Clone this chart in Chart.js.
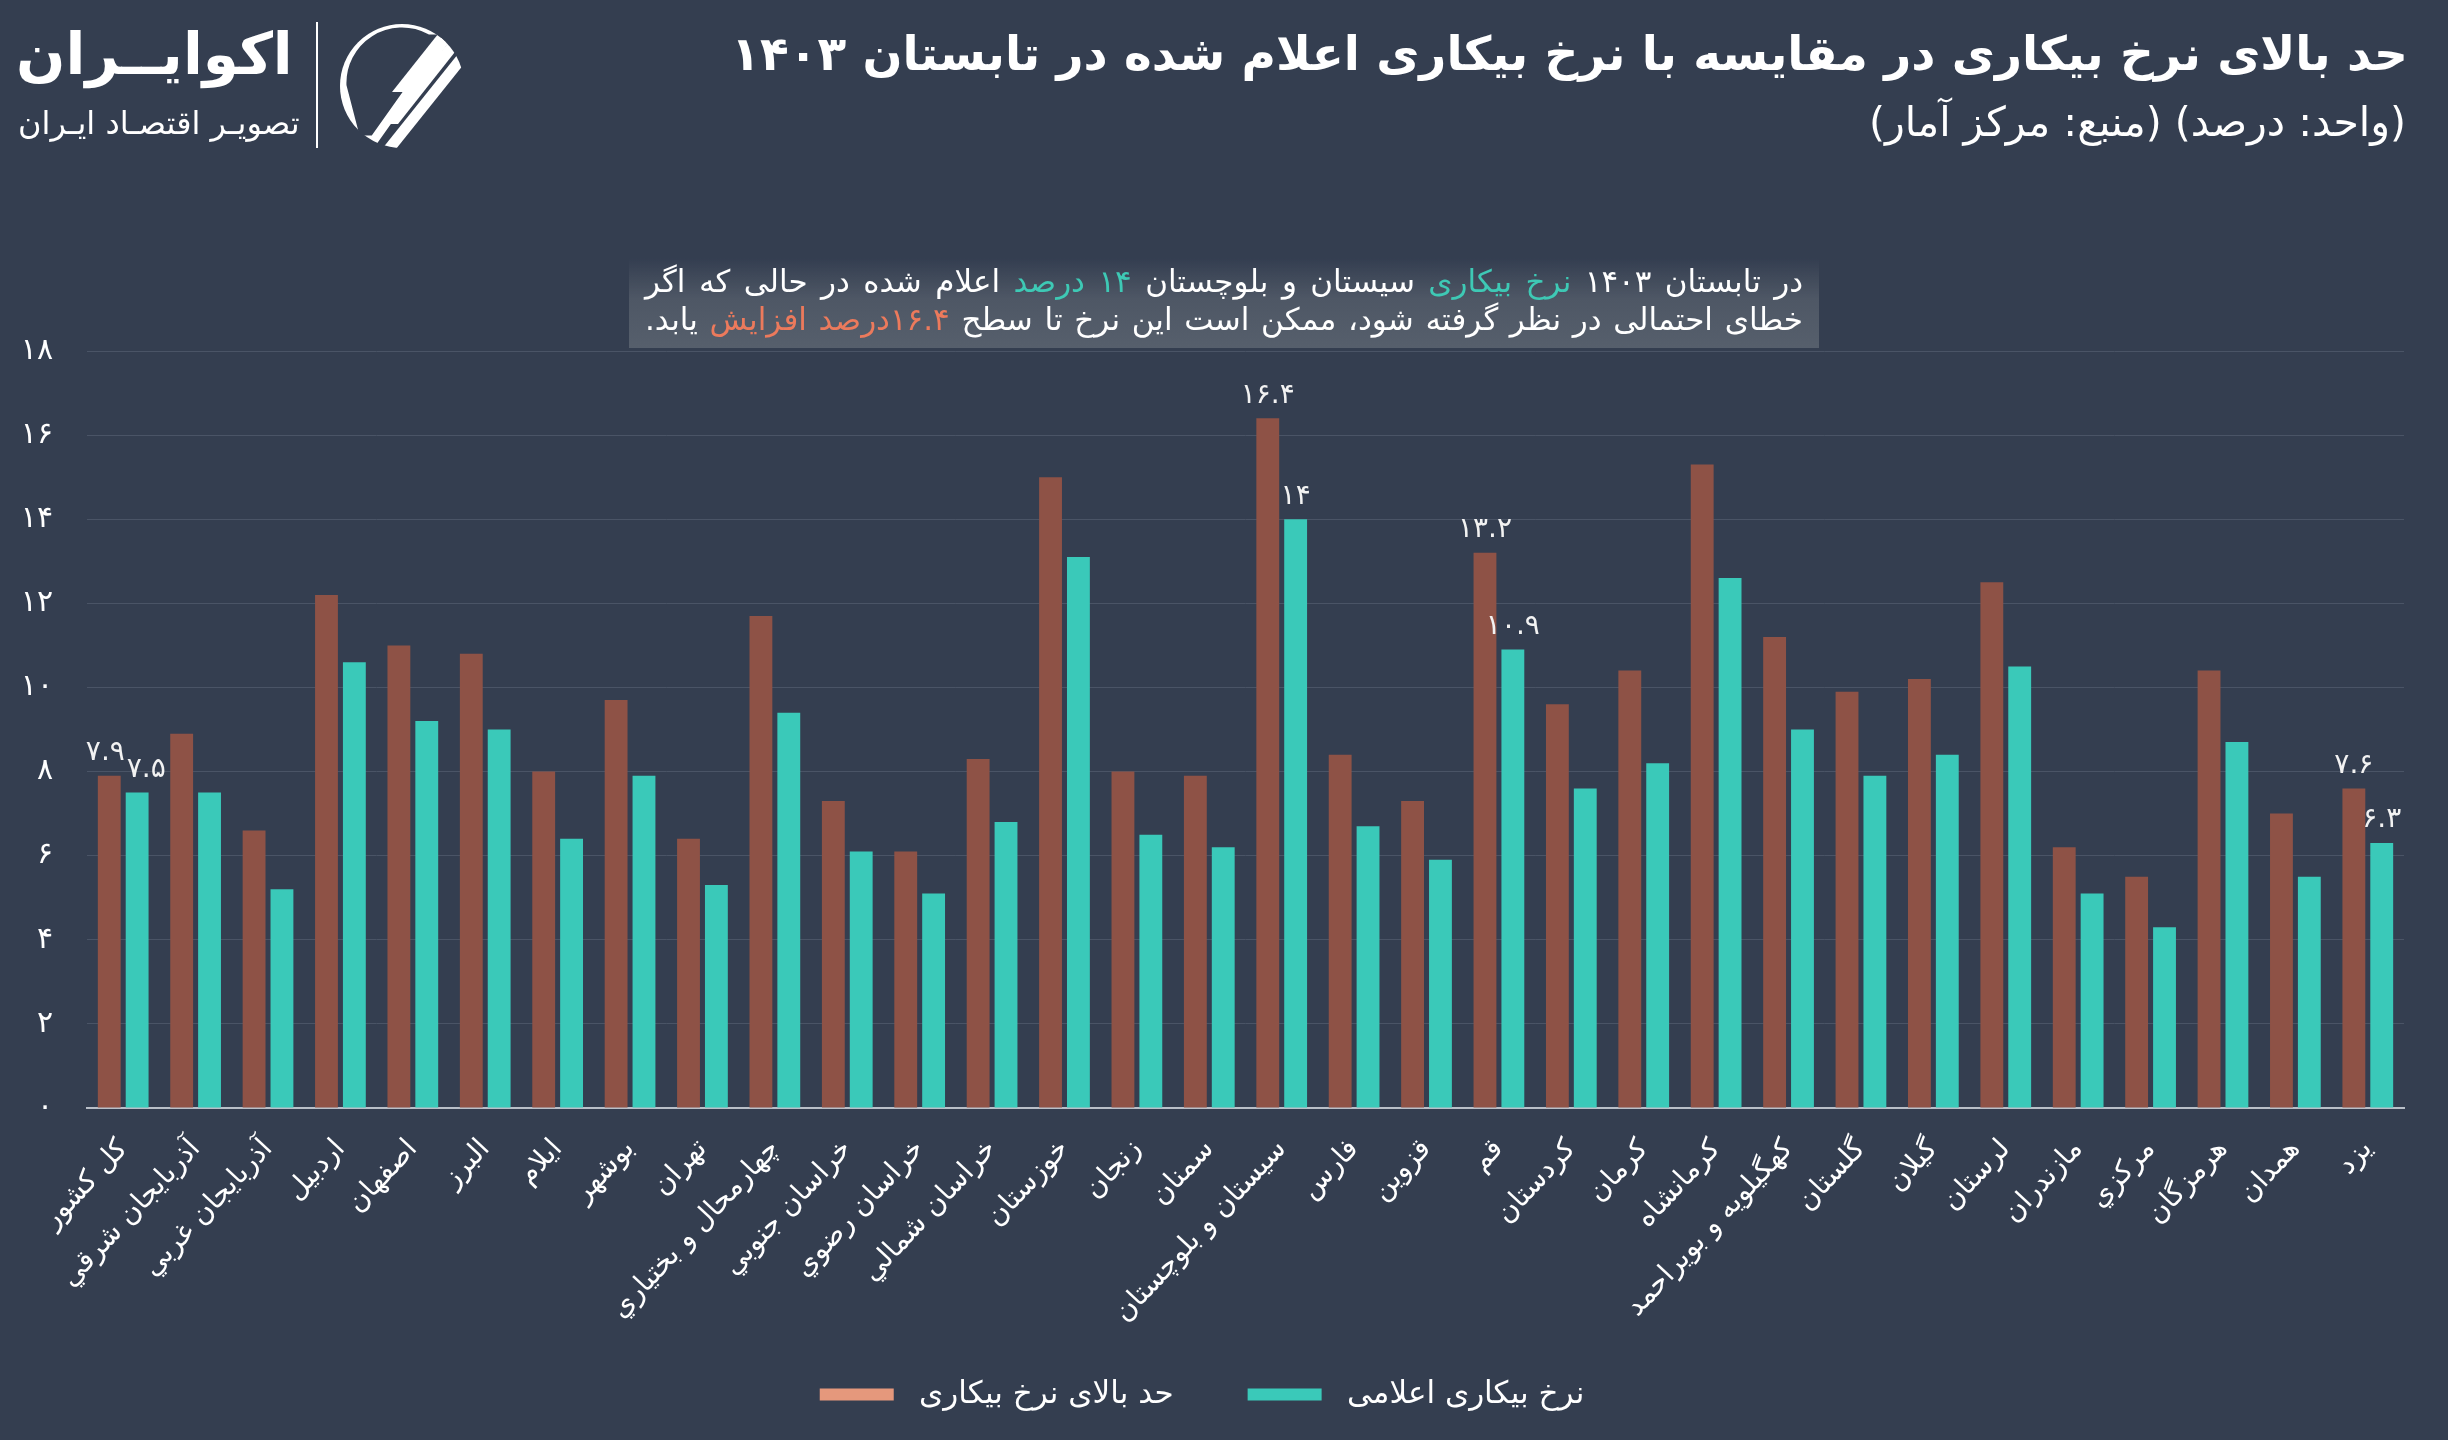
<!DOCTYPE html>
<html lang="fa">
<head>
<meta charset="utf-8">
<script src="https://cdn.jsdelivr.net/npm/chart.js@4.4.1/dist/chart.umd.min.js"></script>
<style>
  body { margin: 0; background: #343e50; width: 2448px; height: 1440px; overflow: hidden; font-family: "DejaVu Sans", sans-serif; color: #fff; position: relative; }
  #chart { position: absolute; left: 0; top: 0; }
  .title { position: absolute; right: 40px; top: 26px; font-size: 47px; font-weight: bold; direction: rtl; white-space: nowrap; }
  .sub { position: absolute; right: 42px; top: 98px; font-size: 41px; direction: rtl; white-space: nowrap; }
  .note { position: absolute; left: 629px; top: 258px; width: 1190px; height: 90px; box-sizing: border-box; padding: 4px 16px 0 16px;
          background: linear-gradient(to bottom, rgba(80,88,102,0) 0%, #4e5765 45%, #565f6c 100%); direction: rtl; font-size: 31px; line-height: 38px; }
  .note div { text-align: justify; text-align-last: justify; white-space: nowrap; }
  .teal { color: #3ec9b5; }
  .orange { color: #ec7a5c; }
  .logo-name { position: absolute; left: 16px; top: 20px; font-size: 58px; font-weight: bold; direction: rtl; }
  .logo-sub { position: absolute; left: 18px; top: 104px; font-size: 32px; direction: rtl; }
  .logo-bar { position: absolute; left: 316px; top: 22px; width: 2px; height: 126px; background: #fff; }
  #icon { position: absolute; left: 334px; top: 20px; }
</style>
</head>
<body>
<canvas id="chart" width="2448" height="1440"></canvas>

<div class="logo-name">اکوایــران</div>
<div class="logo-sub">تصویـر اقتصـاد ایـران</div>
<div class="logo-bar"></div>
<svg id="icon" width="140" height="130" viewBox="0 0 140 130">
  <defs><clipPath id="c"><circle cx="68" cy="66" r="62"/></clipPath></defs>
  <g clip-path="url(#c)" fill="#fff">
    <path d="M8 66 A60 60 0 0 1 96 10 L118 10 L40 120 L22 120 Z" fill="none" stroke="#fff" stroke-width="9"/>
    <polygon points="58,72 112,4 126,4 72,72"/>
    <polygon points="50,104 118,18 132,18 64,104"/>
    <polygon points="44,134 124,34 138,34 58,134"/>
  </g>
</svg>

<div class="title">حد بالای نرخ بیکاری در مقایسه با نرخ بیکاری اعلام شده در تابستان ۱۴۰۳</div>
<div class="sub">(واحد: درصد) (منبع: مرکز آمار)</div>

<div class="note">
  <div>در تابستان ۱۴۰۳ <span class="teal">نرخ بیکاری</span> سیستان و بلوچستان <span class="teal">۱۴ درصد</span> اعلام شده در حالی که اگر</div>
  <div>خطای احتمالی در نظر گرفته شود، ممکن است این نرخ تا سطح <span class="orange">۱۶.۴درصد افزایش</span> یابد.</div>
</div>

<script>
// استان ها
const provinces = [
  'کل کشور', 'آذربایجان شرقي', 'آذربایجان غربي', 'اردبیل', 'اصفهان', 'البرز', 'ایلام', 'بوشهر',
  'تهران', 'چهارمحال و بختیاري', 'خراسان جنوبي', 'خراسان رضوي', 'خراسان شمالي', 'خوزستان', 'زنجان', 'سمنان',
  'سیستان و بلوچستان', 'فارس', 'قزوین', 'قم', 'کردستان', 'کرمان', 'کرمانشاه', 'کهگیلویه و بویراحمد',
  'گلستان', 'گیلان', 'لرستان', 'مازندران', 'مرکزي', 'هرمزگان', 'همدان', 'یزد'
];

// حد بالای نرخ بیکاری
const upperRate = [
  7.9, 8.9, 6.6, 12.2, 11.0, 10.8, 8.0, 9.7,
  6.4, 11.7, 7.3, 6.1, 8.3, 15.0, 8.0, 7.9,
  16.4, 8.4, 7.3, 13.2, 9.6, 10.4, 15.3, 11.2,
  9.9, 10.2, 12.5, 6.2, 5.5, 10.4, 7.0, 7.6
];

// نرخ بیکاری اعلامی
const announcedRate = [
  7.5, 7.5, 5.2, 10.6, 9.2, 9.0, 6.4, 7.9,
  5.3, 9.4, 6.1, 5.1, 6.8, 13.1, 6.5, 6.2,
  14.0, 6.7, 5.9, 10.9, 7.6, 8.2, 12.6, 9.0,
  7.9, 8.4, 10.5, 5.1, 4.3, 8.7, 5.5, 6.3
];

const seriesNames = ['حد بالای نرخ بیکاری', 'نرخ بیکاری اعلامی'];
const labeledIdx = [0, 16, 19, 31];

const faDigits = '۰۱۲۳۴۵۶۷۸۹';
const toFa = v => String(v).replace(/[0-9]/g, d => faDigits[d]);

const barColors = ['#8e5246', '#3ac9b9'];
const legendColors = ['#e5987c', '#3ac9b9'];
const font = '"DejaVu Sans", sans-serif';
const padBottom = 20;

// برچسب مقادیر
const valueLabels = {
  id: 'valueLabels',
  afterDatasetsDraw(chart) {
    const ctx = chart.ctx;
    ctx.save();
    ctx.fillStyle = '#f2f2f2';
    ctx.font = '28px ' + font;
    ctx.textAlign = 'center';
    ctx.textBaseline = 'bottom';
    const m0 = chart.getDatasetMeta(0), m1 = chart.getDatasetMeta(1);
    labeledIdx.forEach(i => {
      const t0 = toFa(upperRate[i]), t1 = toFa(announcedRate[i]);
      const b0 = m0.data[i], b1 = m1.data[i];
      let x0 = b0.x, x1 = b1.x;
      const y0 = b0.y - 9, y1 = b1.y - 9;
      // اگر برچسب ها روی هم افتادند کمی جدا شوند
      if (Math.abs(y0 - y1) < 34) {
        const overlap = (x0 + ctx.measureText(t0).width / 2) - (x1 - ctx.measureText(t1).width / 2) + 2;
        if (overlap > 0) { x0 -= overlap * 0.3; x1 += overlap * 0.7; }
      }
      ctx.fillText(t0, x0, y0);
      ctx.fillText(t1, x1, y1);
    });
    ctx.restore();
  }
};

new Chart(document.getElementById('chart').getContext('2d'), {
  type: 'bar',
  data: {
    labels: provinces,
    datasets: [
      { label: seriesNames[0], data: upperRate, backgroundColor: barColors[0] },
      { label: seriesNames[1], data: announcedRate, backgroundColor: barColors[1] }
    ]
  },
  options: {
    responsive: false,
    animation: false,
    devicePixelRatio: 1,
    categoryPercentage: 0.77,
    barPercentage: 0.82,
    layout: { padding: { left: 0, right: 44, top: 351, bottom: padBottom } },
    plugins: {
      tooltip: { enabled: false },
      legend: {
        position: 'bottom',
        labels: {
          color: '#fff',
          font: { size: 31, family: font },
          boxWidth: 74,
          boxHeight: 12,
          padding: 12,
          generateLabels(chart) {
            const items = Chart.defaults.plugins.legend.labels.generateLabels(chart);
            items.forEach((it, i) => {
              it.text = '\u00a0' + it.text + (i < items.length - 1 ? '\u2003\u2003' : '');
              it.fillStyle = legendColors[i]; it.strokeStyle = legendColors[i]; it.lineWidth = 0;
            });
            return items;
          }
        }
      }
    },
    scales: {
      x: {
        grid: { display: false, drawTicks: false },
        border: { color: '#b9bfc8', width: 2 },
        ticks: { color: '#fff', font: { size: 28, family: font }, maxRotation: 47, minRotation: 47, padding: 25, autoSkip: false },
        afterFit(scale) {
          const lg = scale.chart.legend;
          const lh = lg && lg.height ? lg.height : 62;
          scale.height = 1440 - padBottom - 1108 - lh;
        }
      },
      y: {
        min: 0,
        max: 18,
        grid: { color: '#4a5466', drawTicks: false },
        border: { display: false },
        ticks: { stepSize: 2, color: '#fff', font: { size: 30, family: font }, padding: 34, callback: v => toFa(v) },
        afterFit(scale) { scale.width = 87; }
      }
    }
  },
  plugins: [valueLabels]
});
</script>
</body>
</html>
